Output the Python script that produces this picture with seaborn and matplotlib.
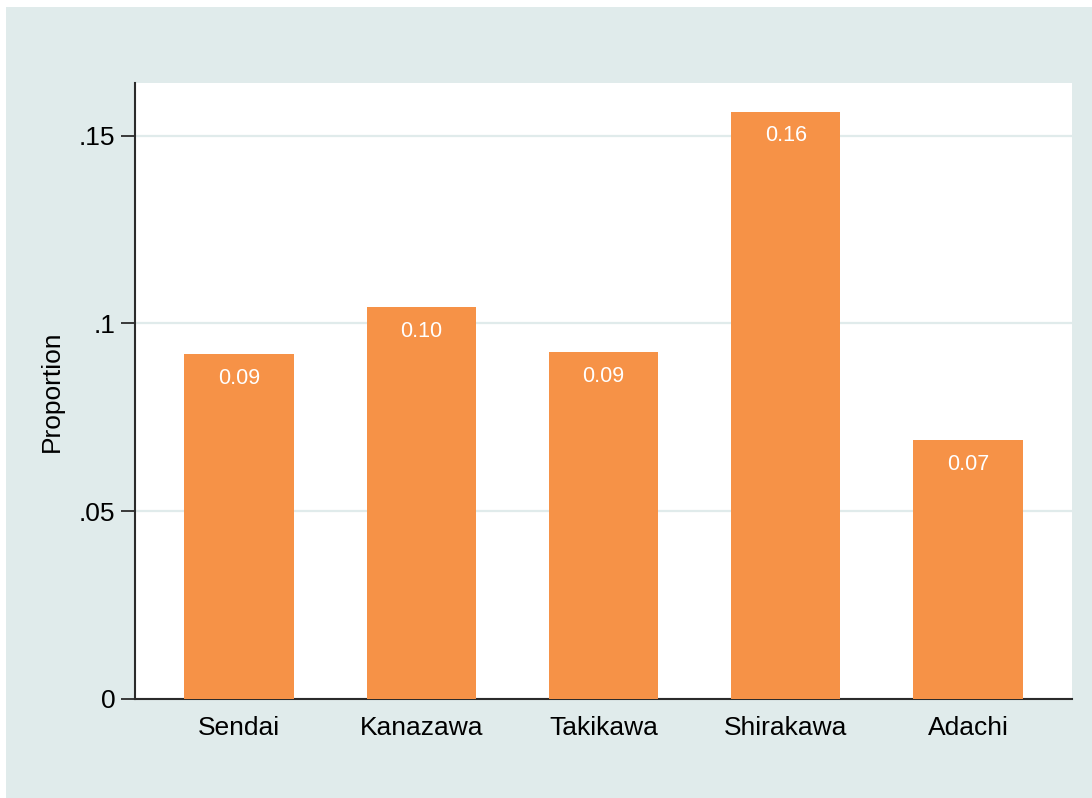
import matplotlib
matplotlib.use("Agg")
import matplotlib.pyplot as plt
import seaborn as sns
import pandas as pd
from matplotlib.patches import Rectangle

# data
cities = ["Sendai", "Kanazawa", "Takikawa", "Shirakawa", "Adachi"]
proportion = [0.0919, 0.1044, 0.0924, 0.1564, 0.0690]
ytick_vals = [0, 0.05, 0.1, 0.15]
ytick_labels = ["0", ".05", ".1", ".15"]

df = pd.DataFrame({"city": cities, "proportion": proportion})

bg = "#e0ebeb"
bar_color = "#f69247"

sns.set_style("white")
plt.rcParams["font.family"] = ["Liberation Sans", "DejaVu Sans"]
plt.rcParams["text.color"] = "black"
plt.rcParams["xtick.color"] = "black"
plt.rcParams["ytick.color"] = "black"
plt.rcParams["axes.labelcolor"] = "black"

fig = plt.figure(figsize=(10.92, 7.98), dpi=100)
fig.patch.set_facecolor("white")
# bluish-gray outer region (white strip at top and left edges)
fig.patches.append(Rectangle((6 / 1092, 0), 1, 1 - 7 / 798, transform=fig.transFigure,
                             facecolor=bg, edgecolor="none", zorder=-10))

ax = fig.add_axes([135 / 1092, 1 - 699 / 798, (1072 - 135) / 1092, (699 - 83) / 798])
ax.set_facecolor("white")

sns.barplot(data=df, x="city", y="proportion", order=cities, color=bar_color,
            saturation=1, width=0.6, edgecolor=bar_color, linewidth=0, ax=ax, zorder=3)

for c in ax.containers:
    ax.bar_label(c, fmt="%.2f", padding=-25, color="white", fontsize=15.5, zorder=4)

ax.set_xlim(-0.57, 4.57)
ax.set_ylim(0, 0.164)
ax.set_yticks(ytick_vals)
ax.set_yticklabels(ytick_labels)
ax.yaxis.grid(True, color=bg, linewidth=1.6, zorder=0)
ax.set_axisbelow(True)

for s in ["top", "right"]:
    ax.spines[s].set_visible(False)
for s in ["left", "bottom"]:
    ax.spines[s].set_color("#2b2b2b")
    ax.spines[s].set_linewidth(1.5)

ax.tick_params(axis="y", length=10, width=1.3, color="#2b2b2b", labelsize=19, pad=4, left=True)
ax.tick_params(axis="x", length=0, labelsize=19, pad=12)
ax.set_xlabel("")
ax.set_ylabel("Proportion", fontsize=19, labelpad=11)

fig.savefig("out.png", dpi=100, facecolor=fig.get_facecolor())
